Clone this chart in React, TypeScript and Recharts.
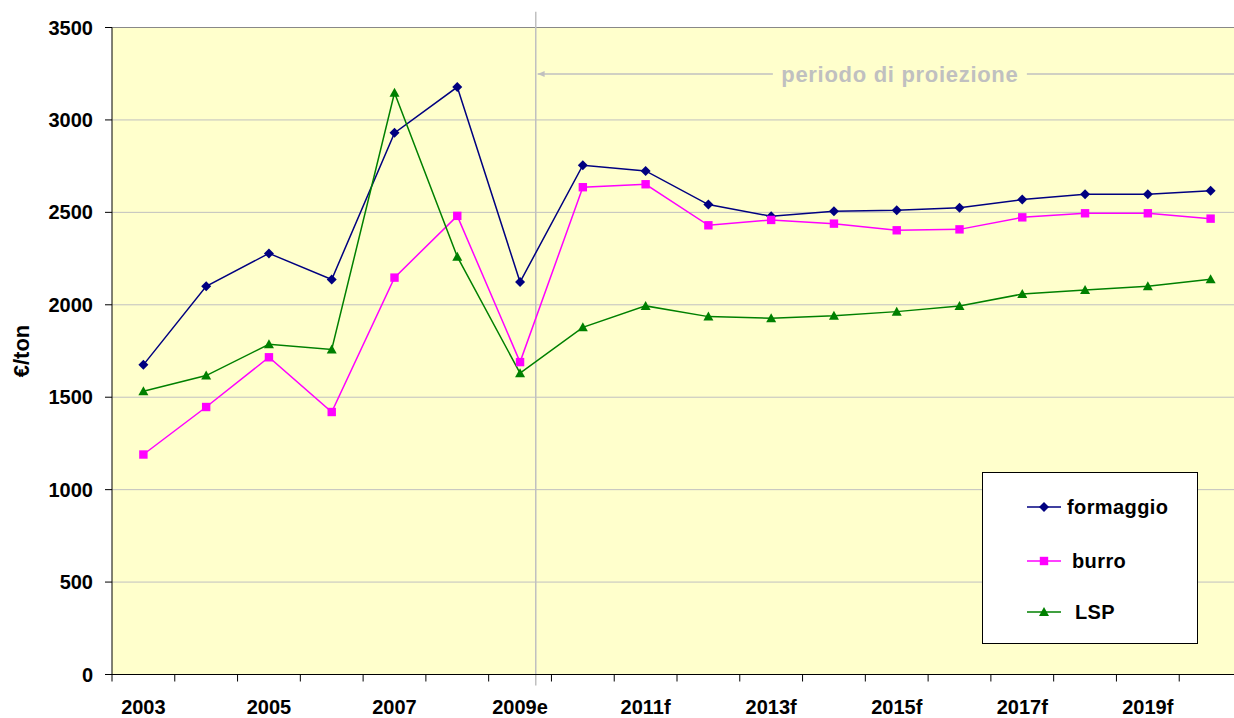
import { FC } from 'react'
import {
	CartesianGrid,
	ComposedChart,
	Legend,
	Line,
	ReferenceDot,
	ReferenceLine,
	XAxis,
	YAxis,
} from 'recharts'

const years = [
	'2003', '2004', '2005', '2006', '2007', '2008', '2009e', '2010f', '2011f',
	'2012f', '2013f', '2014f', '2015f', '2016f', '2017f', '2018f', '2019f', '2020f',
]
const formaggio = [
	1675, 2100, 2278, 2137, 2930, 3178, 2123, 2755, 2724,
	2542, 2479, 2506, 2511, 2525, 2569, 2598, 2598, 2617,
]
const burro = [
	1190, 1447, 1716, 1420, 2147, 2481, 1690, 2636, 2652,
	2430, 2459, 2439, 2403, 2408, 2473, 2495, 2495, 2466,
]
const lsp = [
	1532, 1617, 1786, 1758, 3147, 2260, 1630, 1878, 1994,
	1936, 1927, 1941, 1963, 1994, 2058, 2080, 2100, 2138,
]
const yTicks = [0, 500, 1000, 1500, 2000, 2500, 3000, 3500]

// projection period, on the year-index scale (0 = 2003)
const projStart = 6.25
const projLabelAt = 12.05
const arrowLevel = 3248

const data = years.map((year, i) => ({
	year,
	idx: i,
	formaggio: formaggio[i],
	burro: burro[i],
	lsp: lsp[i],
}))

const FONT = '"Liberation Sans", Arial, sans-serif'
const CHART_W = 1250
const CHART_H = 718
const MARGIN = { top: 27.5, right: 8, bottom: 0, left: 0 }
const Y_W = 112
const BAND = (CHART_W - MARGIN.left - MARGIN.right - Y_W) / years.length
const PLOT_BG = '#FFFFCC'
const GRAY = '#C0C0C0'

const NAVY = '#000080'
const MAGENTA = '#FF00FF'
const GREEN = '#008000'

const Diamond: FC<{ cx: number; cy: number; fill: string; r?: number }> = ({ cx, cy, fill, r = 5 }) => (
	<path d={`M${cx},${cy - r} L${cx + r},${cy} L${cx},${cy + r} L${cx - r},${cy} Z`} fill={fill} />
)
const Square: FC<{ cx: number; cy: number; fill: string; r?: number }> = ({ cx, cy, fill, r = 4.2 }) => (
	<rect x={cx - r} y={cy - r} width={r * 2} height={r * 2} fill={fill} />
)
const Triangle: FC<{ cx: number; cy: number; fill: string; r?: number }> = ({ cx, cy, fill, r = 5 }) => (
	<path d={`M${cx},${cy - r} L${cx + r},${cy + r * 0.8} L${cx - r},${cy + r * 0.8} Z`} fill={fill} />
)

const XTick = (props: any) => {
	const { x, y, payload, index } = props
	const top = y - 7
	const left = x - BAND / 2
	return (
		<g>
			<line x1={left} y1={top} x2={left} y2={top + 7} stroke="#000" />
			{index === years.length - 1 && (
				<line x1={x + BAND / 2} y1={top} x2={x + BAND / 2} y2={top + 7} stroke="#000" />
			)}
			{index % 2 === 0 && (
				<text
					x={x}
					y={top + 39}
					textAnchor="middle"
					fontFamily={FONT}
					fontWeight="bold"
					fontSize={20}
					fill="#000"
				>
					{payload.value}
				</text>
			)}
		</g>
	)
}

const AxisTitle = (props: any) => {
	const { viewBox } = props
	const x = viewBox.x + 21
	const y = viewBox.y + viewBox.height / 2
	return (
		<text
			x={x}
			y={y}
			transform={`rotate(-90, ${x}, ${y})`}
			textAnchor="middle"
			dominantBaseline="central"
			fontFamily={FONT}
			fontWeight="bold"
			fontSize={22}
			fill="#000"
		>
			€/ton
		</text>
	)
}

const legendItems = [
	{ name: 'formaggio', color: NAVY, marker: 'diamond', cy: 34, tx: 84 },
	{ name: 'burro', color: MAGENTA, marker: 'square', cy: 88, tx: 89 },
	{ name: 'LSP', color: GREEN, marker: 'triangle', cy: 139, tx: 92 },
]

const LegendBox = () => (
	<div
		style={{
			width: 216,
			height: 172,
			boxSizing: 'border-box',
			border: '1px solid #000',
			background: '#fff',
		}}
	>
		<svg width={214} height={170}>
			{legendItems.map((it) => (
				<g key={it.name}>
					<line x1={44} y1={it.cy} x2={78} y2={it.cy} stroke={it.color} strokeWidth={1.5} />
					{it.marker === 'diamond' && <Diamond cx={61} cy={it.cy} fill={it.color} />}
					{it.marker === 'square' && <Square cx={61} cy={it.cy} fill={it.color} />}
					{it.marker === 'triangle' && <Triangle cx={61} cy={it.cy} fill={it.color} />}
					<text
						x={it.tx}
						y={it.cy}
						dominantBaseline="central"
						fontFamily={FONT}
						fontWeight="bold"
						fontSize={20}
						letterSpacing={0.4}
						fill="#000"
					>
						{it.name}
					</text>
				</g>
			))}
		</svg>
	</div>
)

const ArrowShape = (props: any) => {
	const { x1, y1, x2, y2 } = props
	return (
		<g>
			<line x1={x1} y1={y1} x2={x2} y2={y2} stroke={GRAY} strokeWidth={1.5} />
			<path d={`M${x1},${y1} L${x1 + 7},${y1 - 3} L${x1 + 7},${y1 + 3} Z`} fill={GRAY} />
		</g>
	)
}

const ProjLabel = (props: any) => {
	const { cx, cy } = props
	return (
		<g>
			<rect x={cx - 127} y={cy - 13} width={254} height={26} fill={PLOT_BG} />
			<text
				x={cx}
				y={cy}
				textAnchor="middle"
				dominantBaseline="central"
				fontFamily={FONT}
				fontWeight="bold"
				fontSize={22}
				letterSpacing={0.7}
				fill={GRAY}
			>
				periodo di proiezione
			</text>
		</g>
	)
}

const App: FC = () => {
	return (
		<div style={{ position: 'absolute', left: 0, top: 0, width: 1234, height: 718, overflow: 'hidden', background: '#fff' }}>
			<ComposedChart width={CHART_W} height={CHART_H} data={data} margin={MARGIN}>
				<CartesianGrid vertical={false} stroke={GRAY} fill={PLOT_BG} />
				<XAxis
					dataKey="year"
					scale="band"
					interval={0}
					tickSize={7}
					tickMargin={0}
					tickLine={false}
					tick={<XTick />}
					height={43.5}
					axisLine={{ stroke: '#000' }}
				/>
				<XAxis
					xAxisId="num"
					dataKey="idx"
					type="number"
					domain={[-0.5, years.length - 0.5]}
					hide
					allowDataOverflow
				/>
				<YAxis
					width={Y_W}
					domain={[0, 3500]}
					ticks={yTicks}
					interval={0}
					tickSize={7}
					tickMargin={12}
					axisLine={{ stroke: '#000' }}
					tickLine={{ stroke: '#000' }}
					tick={{ fill: '#000', fontFamily: FONT, fontWeight: 'bold', fontSize: 20 }}
					label={<AxisTitle />}
				/>
				<ReferenceLine y={3500} stroke="#888" />
				<ReferenceLine
					xAxisId="num"
					segment={[
						{ x: projStart, y: -60 },
						{ x: projStart, y: 3585 },
					]}
					ifOverflow="visible"
					stroke={GRAY}
					strokeWidth={1.5}
				/>
				<ReferenceLine
					xAxisId="num"
					segment={[
						{ x: projStart + 0.03, y: arrowLevel },
						{ x: years.length, y: arrowLevel },
					]}
					ifOverflow="visible"
					shape={<ArrowShape />}
				/>
				<ReferenceDot
					xAxisId="num"
					x={projLabelAt}
					y={arrowLevel}
					ifOverflow="visible"
					shape={<ProjLabel />}
				/>
				<Line
					type="linear"
					dataKey="formaggio"
					name="formaggio"
					stroke={NAVY}
					strokeWidth={1.5}
					dot={(p: any) => <Diamond key={`f-${p.index}`} cx={p.cx} cy={p.cy} fill={NAVY} />}
					activeDot={false}
					isAnimationActive={false}
				/>
				<Line
					type="linear"
					dataKey="burro"
					name="burro"
					stroke={MAGENTA}
					strokeWidth={1.5}
					dot={(p: any) => <Square key={`b-${p.index}`} cx={p.cx} cy={p.cy} fill={MAGENTA} />}
					activeDot={false}
					isAnimationActive={false}
				/>
				<Line
					type="linear"
					dataKey="lsp"
					name="LSP"
					stroke={GREEN}
					strokeWidth={1.5}
					dot={(p: any) => <Triangle key={`l-${p.index}`} cx={p.cx} cy={p.cy} fill={GREEN} />}
					activeDot={false}
					isAnimationActive={false}
				/>
				<Legend
					layout="vertical"
					align="center"
					verticalAlign="middle"
					content={<LegendBox />}
					wrapperStyle={{ left: 982, top: 472, width: 216, height: 172 }}
				/>
			</ComposedChart>
		</div>
	)
}

export default App
